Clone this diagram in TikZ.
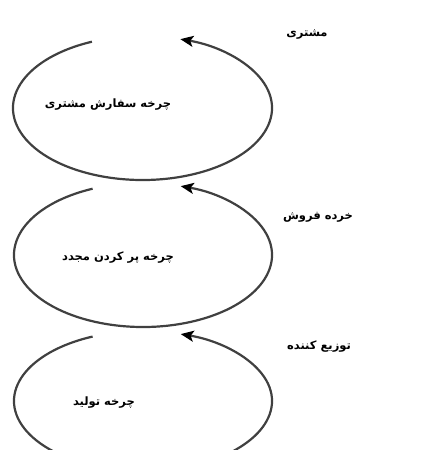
\documentclass[tikz,border=0pt]{standalone}
\usepackage{fontspec}
\usetikzlibrary{arrows.meta}
\newfontfamily\arabicfont[Script=Arabic]{DejaVu Sans}
\TeXXeTstate=1
\begin{document}
\begin{tikzpicture}[x=1pt,y=1pt,
  loop/.style={line width=2.2pt,draw=black!75,-{Stealth[length=13pt,width=11pt,inset=3pt,fill=black,color=black]}},
  lbl/.style={font=\arabicfont\bfseries\fontsize{11.5}{13}\selectfont,inner sep=0pt,text=black}]
\useasboundingbox (0,0) rectangle (425,461);
\coordinate (c1) at (142.5,353);
\coordinate (c2) at (143,206);
\coordinate (c3) at (143,60);
\draw[loop] ([shift={(113:129.5pt and 72pt)}]c1) arc[start angle=113,end angle=433,x radius=129.5pt,y radius=72pt];
\draw[loop] ([shift={(113:129pt and 72pt)}]c2) arc[start angle=113,end angle=433,x radius=129pt,y radius=72pt];
\begin{scope}
\clip (0,11) rectangle (425,461);
\draw[loop] ([shift={(113:129pt and 70pt)}]c3) arc[start angle=113,end angle=433,x radius=129pt,y radius=70pt];
\end{scope}
\node[lbl] (t1) at (307,426) {\beginR مشتری\endR};
\node[lbl] (l1) at (108,356) {\beginR چرخه سفارش مشتری\endR};
\node[lbl] (t2) at (318,244) {\beginR خرده فروش\endR};
\node[lbl] (l2) at (118,203) {\beginR چرخه پر کردن مجدد\endR};
\node[lbl] (t3) at (319,114) {\beginR توزیع کننده\endR};
\node[lbl] (l3) at (104,58) {\beginR چرخه تولید\endR};
\end{tikzpicture}
\end{document}
